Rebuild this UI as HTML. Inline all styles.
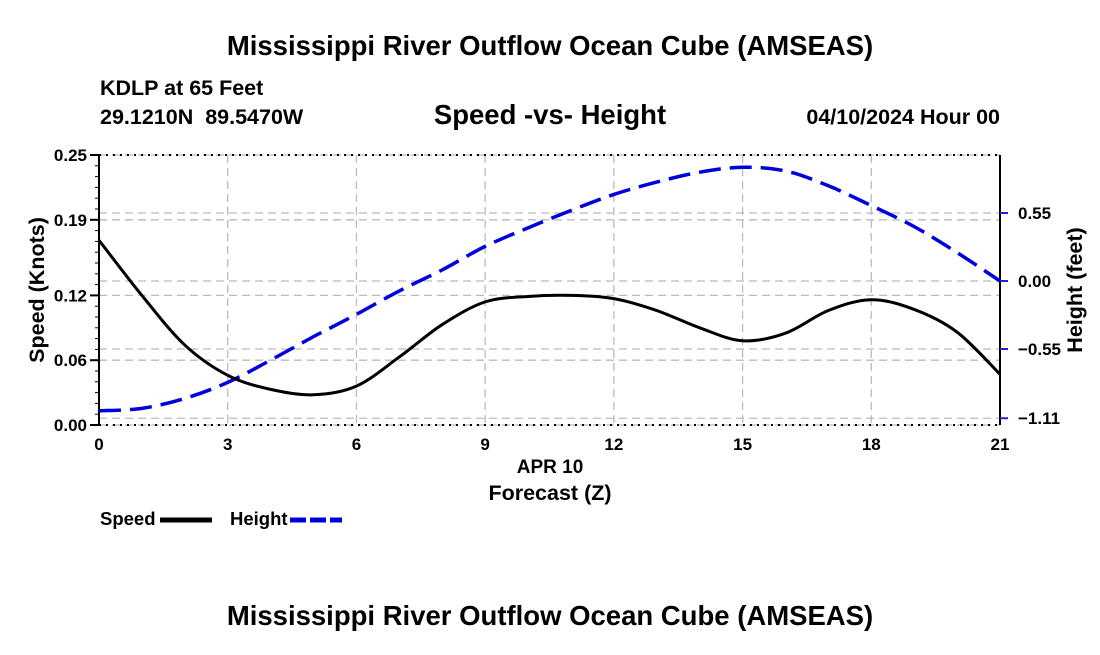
<!DOCTYPE html>
<html><head><meta charset="utf-8"><style>
body{margin:0;background:#fff;width:1100px;height:650px;overflow:hidden;font-family:"Liberation Sans",Arial,sans-serif}
text{font-family:"Liberation Sans",Arial,sans-serif;font-weight:bold;white-space:pre}
</style></head><body>
<svg id="chart" width="1100" height="650">
<text x="550" y="55" text-anchor="middle" font-size="27.5">Mississippi River Outflow Ocean Cube (AMSEAS)</text>
<text x="100" y="95" font-size="21.5">KDLP at 65 Feet</text>
<text x="100" y="124" font-size="21.5" xml:space="preserve">29.1210N  89.5470W</text>
<text x="550" y="124" text-anchor="middle" font-size="27.5">Speed -vs- Height</text>
<text x="1000" y="124" text-anchor="end" font-size="21.5">04/10/2024 Hour 00</text>
<g id="grid"></g>
<g id="axes"></g>
<g id="series"></g>
<text transform="translate(44,290) rotate(-90)" text-anchor="middle" font-size="21.5">Speed (Knots)</text>
<text transform="translate(1082,290) rotate(-90)" text-anchor="middle" font-size="21.5">Height (feet)</text>
<text x="550" y="473" text-anchor="middle" font-size="19">APR 10</text>
<text x="550" y="500" text-anchor="middle" font-size="21.5">Forecast (Z)</text>
<g>
<text x="100" y="525" font-size="18.5">Speed</text>
<line x1="160" y1="520" x2="212" y2="520" stroke="#000" stroke-width="5"/>
</g>
<g>
<text x="230" y="525" font-size="18.5">Height</text>
<line x1="290" y1="520" x2="342" y2="520" stroke="#0000dd" stroke-width="5" stroke-dasharray="16,4"/>
</g>
<text x="550" y="625" text-anchor="middle" font-size="27.5">Mississippi River Outflow Ocean Cube (AMSEAS)</text>
</svg>
<script>
const hours=[0,1,2,3,4,5,6,7,8,9,10,11,12,13,14,15,16,17,18,19,20,21];
const speed=[0.171,0.120,0.074,0.046,0.033,0.028,0.036,0.063,0.093,0.114,0.119,0.120,0.117,0.106,0.090,0.078,0.085,0.106,0.116,0.107,0.086,0.047];
const height=[-1.05,-1.03,-0.95,-0.82,-0.64,-0.45,-0.27,-0.08,0.09,0.28,0.43,0.57,0.70,0.80,0.88,0.92,0.89,0.77,0.61,0.44,0.23,0.00];
const xTicks=[0,3,6,9,12,15,18,21];
const leftTicks=[0.00,0.06,0.12,0.19,0.25];
const leftTickLabels=["0.00","0.06","0.12","0.19","0.25"];
const rightTicks=[-1.11,-0.55,0.00,0.55];
const rightTickLabels=["\u22121.11","\u22120.55","0.00","0.55"];
const X0=99,X1=1000,YT=155,YB=425;
const sx=h=>X0+(X1-X0)*h/21;
const sy=v=>YB-(YB-YT)*v/0.25;
const hy=v=>281-v*68/0.55;
const NS="http://www.w3.org/2000/svg";
function mk(parent,tag,attrs){const e=document.createElementNS(NS,tag);for(const k in attrs)e.setAttribute(k,attrs[k]);document.getElementById(parent).appendChild(e);return e;}
const gs={stroke:"#bbb","stroke-width":1.3,"stroke-dasharray":"8,5",fill:"none"};
xTicks.forEach(t=>{const l=mk("grid","line",Object.assign({x1:sx(t),x2:sx(t),y1:YT,y2:YB},gs));

});
leftTicks.forEach(t=>{const l=mk("grid","line",Object.assign({x1:X0,x2:X1,y1:sy(t),y2:sy(t)},gs));

});
rightTicks.forEach(t=>{const l=mk("grid","line",Object.assign({x1:X0,x2:X1,y1:hy(t),y2:hy(t)},gs));

});
mk("axes","line",{x1:X0,x2:X0,y1:YT,y2:YB,stroke:"#000","stroke-width":2});
mk("axes","line",{x1:X1,x2:X1,y1:YT,y2:YB,stroke:"#000","stroke-width":2});
mk("axes","line",{x1:X0,x2:X1,y1:YT,y2:YT,stroke:"#000","stroke-width":2,"stroke-dasharray":"2,5"});
mk("axes","line",{x1:X0,x2:X1,y1:YB,y2:YB,stroke:"#000","stroke-width":2,"stroke-dasharray":"2,5"});
for(let v=0;v<=0.25001;v+=0.01){mk("axes","line",{x1:X0,x2:X0-4,y1:sy(v),y2:sy(v),stroke:"#000","stroke-width":1});}
leftTicks.forEach((t,i)=>{mk("axes","line",{x1:X0,x2:X0-9,y1:sy(t),y2:sy(t),stroke:"#000","stroke-width":2});
const tx=mk("axes","text",{x:X0-12,y:sy(t)+6,"text-anchor":"end","font-size":17});tx.textContent=leftTickLabels[i];

});
rightTicks.forEach((t,i)=>{mk("axes","line",{x1:X1,x2:X1+8,y1:hy(t),y2:hy(t),stroke:"#2222cc","stroke-width":2});
const tx=mk("axes","text",{x:X1+18,y:hy(t)+6,"font-size":17});tx.textContent=rightTickLabels[i];

});
xTicks.forEach(t=>{const tx=mk("axes","text",{x:sx(t),y:YB+25,"text-anchor":"middle","font-size":17});tx.textContent=t;

});
function smooth(pts){let d="M"+pts[0][0]+","+pts[0][1];for(let i=0;i<pts.length-1;i++){const p0=pts[Math.max(i-1,0)],p1=pts[i],p2=pts[i+1],p3=pts[Math.min(i+2,pts.length-1)];
d+=" C"+(p1[0]+(p2[0]-p0[0])/6)+","+(p1[1]+(p2[1]-p0[1])/6)+" "+(p2[0]-(p3[0]-p1[0])/6)+","+(p2[1]-(p3[1]-p1[1])/6)+" "+p2[0]+","+p2[1];}return d;}
const hp=mk("series","path",{d:smooth(hours.map((h,i)=>[sx(h),hy(height[i])])),fill:"none",stroke:"#0000dd","stroke-width":3.5,"stroke-dasharray":"22,9"});


const sp=mk("series","path",{d:smooth(hours.map((h,i)=>[sx(h),sy(speed[i])])),fill:"none",stroke:"#000","stroke-width":3});


</script>
</body></html>
